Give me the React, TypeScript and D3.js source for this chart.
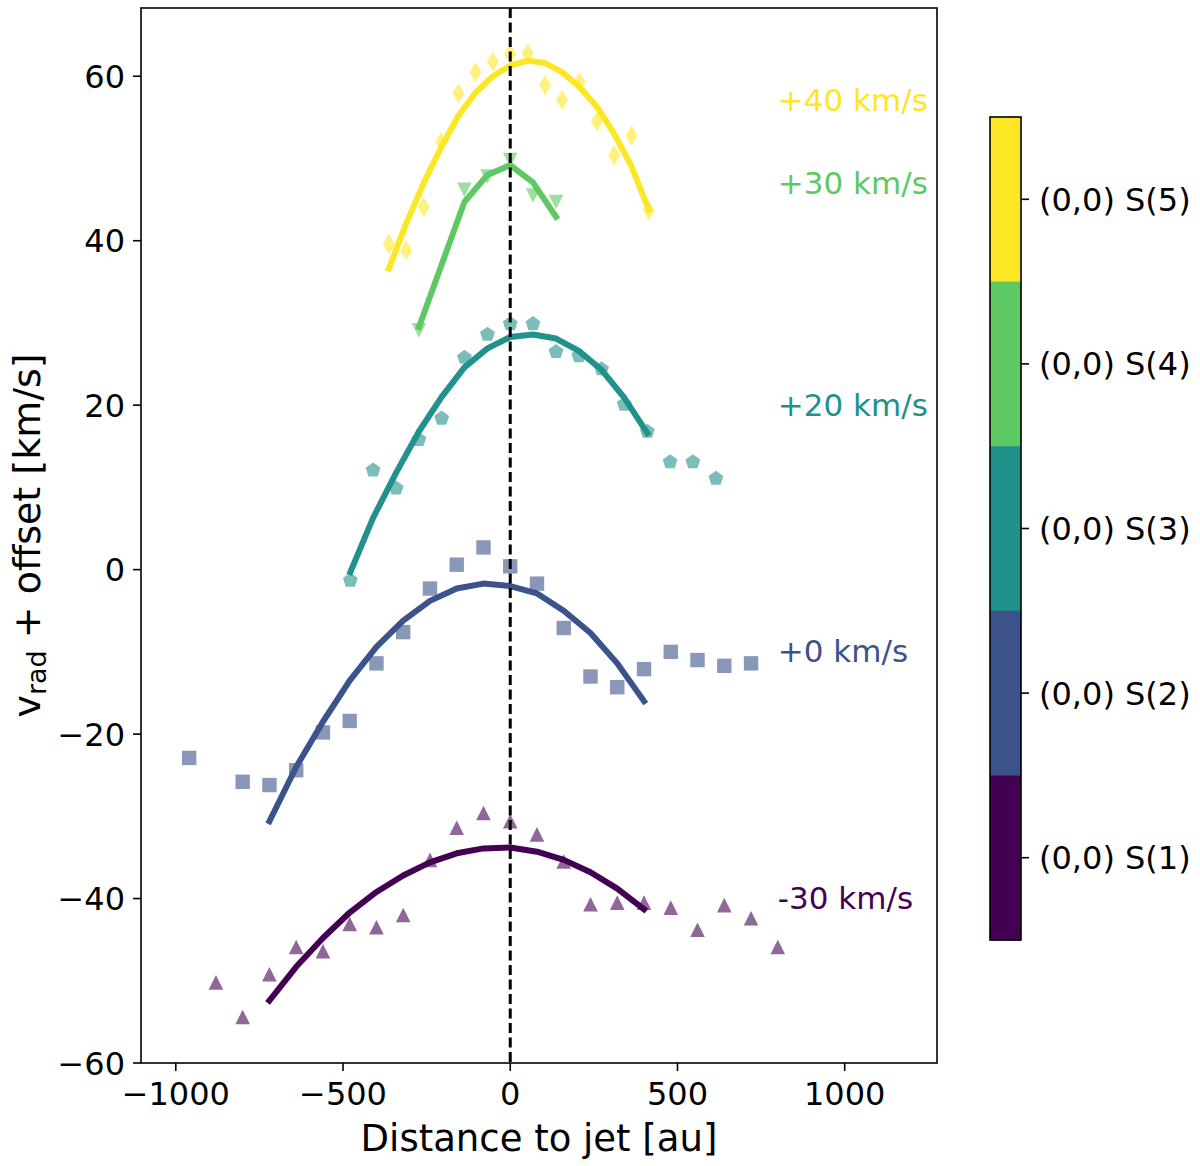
import * as d3 from 'd3';

// Distance to jet [au] and radial velocity + offset [km/s] per line

const s1X = [-880, -800, -720, -640, -560, -480, -400, -320, -240, -160, -80, 0, 80, 160, 240, 320, 400, 480, 560, 640, 720, 800];
const s1Y = [-50.2, -54.4, -49.2, -45.9, -46.4, -43.1, -43.5, -42.0, -35.3, -31.4, -29.6, -30.6, -32.2, -35.5, -40.7, -40.5, -40.5, -41.1, -43.8, -40.8, -42.4, -45.9];
const s1FitX = [-720, -640, -560, -480, -400, -320, -240, -160, -80, 0, 80, 160, 240, 320, 400];
const s1FitY = [-52.4, -48.3, -44.8, -41.7, -39.2, -37.2, -35.6, -34.5, -33.9, -33.8, -34.3, -35.3, -36.8, -38.8, -41.3];

const s2X = [-960, -800, -720, -640, -560, -480, -400, -320, -240, -160, -80, 0, 80, 160, 240, 320, 400, 480, 560, 640, 720];
const s2Y = [-22.9, -25.8, -26.2, -24.4, -19.8, -18.4, -11.4, -7.6, -2.3, 0.6, 2.7, 0.4, -1.7, -7.1, -13.0, -14.3, -12.1, -10.0, -11.0, -11.7, -11.4];
const s2FitX = [-720, -640, -560, -480, -400, -320, -240, -160, -80, 0, 80, 160, 240, 320, 400];
const s2FitY = [-30.6, -24.0, -18.5, -13.5, -9.4, -6.2, -3.8, -2.3, -1.7, -2.0, -2.9, -5.0, -7.7, -11.4, -16.0];

const s3X = [-478, -410, -341, -273, -205, -137, -68, 0, 68, 137, 205, 273, 341, 410, 478, 546, 615];
const s3Y = [-1.2, 12.2, 10.0, 15.9, 18.5, 25.9, 28.7, 30.0, 30.0, 26.6, 26.1, 24.5, 20.2, 16.9, 13.2, 13.2, 11.2];
const s3FitX = [-478, -410, -341, -273, -205, -137, -68, 0, 68, 137, 205, 273, 341, 410];
const s3FitY = [-0.3, 6.3, 11.8, 16.8, 21.0, 24.6, 26.9, 28.3, 28.6, 28.1, 26.6, 24.3, 20.9, 16.6];

const s4X = [-273, -137, -68, 0, 68, 137];
const s4Y = [29.1, 46.2, 47.8, 49.8, 45.5, 44.7];
const s4FitX = [-273, -137, -68, 0, 68, 137];
const s4FitY = [29.5, 44.7, 48.0, 49.2, 47.1, 42.9];

const s5X = [-363, -311, -259, -207, -155, -104, -52, 0, 52, 104, 155, 207, 259, 311, 363, 414];
const s5Y = [39.6, 38.8, 44.1, 52.0, 57.9, 60.5, 61.8, 62.7, 62.8, 58.9, 57.1, 59.3, 54.5, 50.4, 52.8, 43.7];
const s5FitX = [-363, -311, -259, -207, -155, -104, -52, 0, 52, 104, 155, 207, 259, 311, 363, 414];
const s5FitY = [36.6, 42.1, 47.0, 51.3, 55.2, 58.0, 60.0, 61.3, 61.9, 61.6, 60.5, 58.7, 56.3, 53.0, 49.0, 43.8];

const lineNames = ['(0,0) S(1)', '(0,0) S(2)', '(0,0) S(3)', '(0,0) S(4)', '(0,0) S(5)'];
const lineColors = ['#440154', '#3b528b', '#21918c', '#5ec962', '#fde725'];
const offsetLabels = ['-30 km/s', '+0 km/s', '+20 km/s', '+30 km/s', '+40 km/s'];
const offsetLabelY = [-40, -10, 20, 47, 57];
const offsetLabelX = 800;

const xTicks = [-1000, -500, 0, 500, 1000];
const yTicks = [-60, -40, -20, 0, 20, 40, 60];

const W = 1200;
const H = 1166;
const margin = { top: 8, right: 263, bottom: 103, left: 141 };
const FONT = 'DejaVu Sans, sans-serif';

// marker outlines, in px around the point
const square = (r: number) => `M${-r},${-r}h${2 * r}v${2 * r}h${-2 * r}Z`;
const triUp = (r: number) => `M0,${-r}L${r},${r}L${-r},${r}Z`;
const triDown = (r: number) => `M0,${r}L${r},${-r}L${-r},${-r}Z`;
const thinDiamond = (r: number) => `M0,${-r}L${0.6 * r},0L0,${r}L${-0.6 * r},0Z`;
const pentagon = (r: number) =>
  d3.range(5).map((k) => {
    const a = (-90 + 72 * k) * Math.PI / 180;
    return `${k ? 'L' : 'M'}${(r * Math.cos(a)).toFixed(2)},${(r * Math.sin(a) + 0.9).toFixed(2)}`;
  }).join('') + 'Z';

const series = [
  { xs: s1X, ys: s1Y, fx: s1FitX, fy: s1FitY, marker: triUp(7.3) },
  { xs: s2X, ys: s2Y, fx: s2FitX, fy: s2FitY, marker: square(7.2) },
  { xs: s3X, ys: s3Y, fx: s3FitX, fy: s3FitY, marker: pentagon(7.8) },
  { xs: s4X, ys: s4Y, fx: s4FitX, fy: s4FitY, marker: triDown(7.3) },
  { xs: s5X, ys: s5Y, fx: s5FitX, fy: s5FitY, marker: thinDiamond(10) },
];

export default function App() {
  const x0 = margin.left;
  const x1 = W - margin.right;
  const y0 = margin.top;
  const y1 = H - margin.bottom;

  const x = d3.scaleLinear().domain([-1104, 1276]).range([x0, x1]);
  const y = d3.scaleLinear().domain([-60, 68.3]).range([y1, y0]);

  const line = d3.line<[number, number]>()
    .x((d) => x(d[0]))
    .y((d) => y(d[1]));

  // colorbar
  const cbX = 990;
  const cbW = 31;
  const cb = d3.scaleBand<number>().domain([4, 3, 2, 1, 0]).range([117, 940]);

  return (
    <svg width={W} height={H} style={{ position: 'absolute', left: 0, top: 0, background: '#fff' }} fontFamily={FONT}>
      <defs>
        <clipPath id="plot">
          <rect x={x0} y={y0} width={x1 - x0} height={y1 - y0} />
        </clipPath>
      </defs>

      <g clipPath="url(#plot)">
        {series.map((s, i) => (
          <g key={i}>
            {s.xs.map((v, j) => (
              <path
                key={j}
                d={s.marker}
                transform={`translate(${x(v)},${y(s.ys[j])})`}
                fill={lineColors[i]}
                fillOpacity={0.6}
              />
            ))}
            <path
              d={line(s.fx.map((v, j) => [v, s.fy[j]] as [number, number])) || ''}
              fill="none"
              stroke={lineColors[i]}
              strokeWidth={6}
              strokeLinejoin="round"
              strokeLinecap="square"
            />
          </g>
        ))}
        <line x1={x(0)} x2={x(0)} y1={y0} y2={y1} stroke="#000" strokeWidth={3} strokeDasharray="10,4.5" />
      </g>

      {offsetLabels.map((t, i) => (
        <text key={t} x={x(offsetLabelX)} y={y(offsetLabelY[i]) + 10.5} fontSize={31} fill={lineColors[i]}>
          {t}
        </text>
      ))}

      {/* frame */}
      <rect x={x0} y={y0} width={x1 - x0} height={y1 - y0} fill="none" stroke="#000" strokeWidth={1.6} />

      {/* x axis */}
      {xTicks.map((t) => (
        <g key={t} transform={`translate(${x(t)},${y1})`}>
          <line y2={8} stroke="#000" strokeWidth={1.6} />
          <text y={42} textAnchor="middle" fontSize={32} fill="#000">
            {t < 0 ? `\u2212${-t}` : t}
          </text>
        </g>
      ))}
      <text x={(x0 + x1) / 2} y={1151} textAnchor="middle" fontSize={37} fill="#000">
        Distance to jet [au]
      </text>

      {/* y axis */}
      {yTicks.map((t) => (
        <g key={t} transform={`translate(${x0},${y(t)})`}>
          <line x2={-8} stroke="#000" strokeWidth={1.6} />
          <text x={-16} y={11.5} textAnchor="end" fontSize={32} fill="#000">
            {t < 0 ? `\u2212${-t}` : t}
          </text>
        </g>
      ))}
      <text transform={`translate(40,${(y0 + y1) / 2}) rotate(-90)`} textAnchor="middle" fontSize={38} fill="#000">
        v<tspan fontSize={27} dy={6}>rad</tspan><tspan dy={-6}> + offset [km/s]</tspan>
      </text>

      {/* colorbar */}
      {cb.domain().map((k) => (
        <rect key={k} x={cbX} y={cb(k)} width={cbW} height={cb.bandwidth() + 0.5} fill={lineColors[k]} />
      ))}
      <rect x={cbX} y={117} width={cbW} height={823} fill="none" stroke="#000" strokeWidth={1.6} />
      {cb.domain().map((k) => {
        const cy = (cb(k) || 0) + cb.bandwidth() / 2;
        return (
          <g key={k} transform={`translate(${cbX + cbW},${cy})`}>
            <line x2={8} stroke="#000" strokeWidth={1.6} />
            <text x={18} y={11.5} fontSize={32} fill="#000">
              {lineNames[k]}
            </text>
          </g>
        );
      })}
    </svg>
  );
}
